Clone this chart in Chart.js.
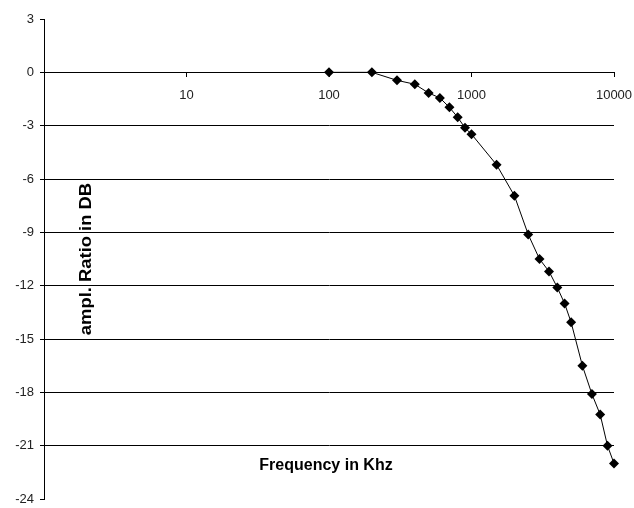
<!DOCTYPE html>
<html>
<head>
<meta charset="utf-8">
<script src="https://cdn.jsdelivr.net/npm/chart.js@4/dist/chart.umd.min.js"></script>
<style>
  html, body { margin: 0; padding: 0; background: #fff; }
  #wrap { width: 634px; height: 508px; }
</style>
</head>
<body>
<div id="wrap"><canvas id="myChart"></canvas></div>
<script>
// Datos
let frecuencias = [100, 200, 300, 400, 500, 600, 700, 800, 900, 1000, 1500, 2000, 2500, 3000, 3500, 4000, 4500, 5000, 6000, 7000, 8000, 9000, 10000];
let ganancia = [0, 0, -0.45, -0.67, -1.16, -1.44, -1.97, -2.53, -3.12, -3.48, -5.2, -6.94, -9.12, -10.5, -11.2, -12.1, -13.0, -14.06, -16.5, -18.1, -19.25, -21.0, -22.0];
let ticksX = [1, 10, 100, 1000, 10000];
let tituloY = 'ampl. Ratio in DB';
let tituloX = 'Frequency in Khz';

let puntos = frecuencias.map((f, i) => ({ x: f, y: ganancia[i] }));

// titulos dentro del area del grafico
const titulos = {
  id: 'titulos',
  afterDraw(chart) {
    const ctx = chart.ctx;
    const a = chart.chartArea;
    const sy = chart.scales.y;
    ctx.save();
    ctx.fillStyle = '#000';
    ctx.font = 'bold 16px "Liberation Sans", Arial, sans-serif';
    ctx.textAlign = 'center';
    ctx.textBaseline = 'middle';
    ctx.fillText(tituloX, 326, sy.getPixelForValue(-22.1));
    ctx.translate(a.left + 43, sy.getPixelForValue(-10.5));
    ctx.rotate(-Math.PI / 2);
    ctx.scale(1.15, 1);
    ctx.fillText(tituloY, 0, 0);
    ctx.restore();
  }
};

const ctx = document.getElementById('myChart').getContext('2d');
const myChart = new Chart(ctx, {
  type: 'scatter',
  data: {
    datasets: [{
      data: puntos,
      showLine: true,
      clip: false,
      borderColor: '#000',
      borderWidth: 1,
      backgroundColor: '#000',
      pointStyle: 'rectRot',
      pointRadius: 5,
      pointBorderWidth: 0,
      tension: 0
    }]
  },
  options: {
    responsive: true,
    maintainAspectRatio: false,
    animation: false,
    layout: { padding: { left: 0, right: 20, top: 19, bottom: 9 } },
    plugins: {
      legend: { display: false },
      tooltip: { enabled: false }
    },
    scales: {
      x: {
        type: 'logarithmic',
        min: 1,
        max: 10000,
        position: { y: 0 },
        afterBuildTicks: s => { s.ticks = ticksX.map(v => ({ value: v })); },
        afterFit: s => { s.paddingLeft = 0; s.paddingRight = 0; },
        ticks: {
          color: '#222',
          font: { family: '"Liberation Sans", Arial, sans-serif', size: 13 },
          padding: 11,
          maxRotation: 0,
          autoSkip: false,
          callback: v => (v === 1 ? '' : String(v))
        },
        grid: { drawOnChartArea: false, drawTicks: true, tickLength: 4, color: '#000' },
        border: { color: '#000', width: 1 }
      },
      y: {
        min: -24,
        max: 3,
        afterFit: s => { s.width = 44; s.paddingTop = 0; s.paddingBottom = 0; },
        ticks: {
          stepSize: 3,
          color: '#222',
          font: { family: '"Liberation Sans", Arial, sans-serif', size: 13 },
          padding: 6
        },
        grid: {
          color: c => (c.tick.value === 3 || c.tick.value === -24 ? 'rgba(0,0,0,0)' : '#000'),
          tickColor: '#000',
          tickLength: 4,
          lineWidth: 1
        },
        border: { color: '#000', width: 1 }
      }
    }
  },
  plugins: [titulos]
});
</script>
</body>
</html>
